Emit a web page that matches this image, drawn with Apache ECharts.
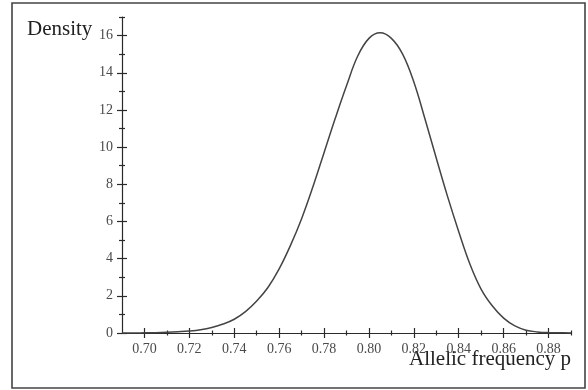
<!DOCTYPE html>
<html>
<head>
<meta charset="utf-8">
<script src="https://cdn.jsdelivr.net/npm/echarts@6/dist/echarts.min.js"></script>
<style>
  html, body { margin: 0; padding: 0; background: #fff; }
  #chart { width: 588px; height: 390px; }
</style>
</head>
<body>
<div id="chart"></div>
<script>
// density curve
const freq = [0.690, 0.695, 0.700, 0.705, 0.710, 0.715, 0.720, 0.725, 0.730, 0.735,
  0.740, 0.745, 0.750, 0.755, 0.760, 0.765, 0.770, 0.775, 0.780, 0.785,
  0.790, 0.795, 0.800, 0.805, 0.810, 0.815, 0.820, 0.825, 0.830, 0.835,
  0.840, 0.845, 0.850, 0.855, 0.860, 0.865, 0.870, 0.875, 0.880, 0.885, 0.890]
const density = [0.00, 0.00, 0.01, 0.02, 0.04, 0.07, 0.11, 0.18, 0.30, 0.48,
  0.74, 1.15, 1.72, 2.45, 3.45, 4.70, 6.15, 7.85, 9.70, 11.55,
  13.30, 14.90, 15.85, 16.15, 15.85, 15.00, 13.50, 11.50, 9.40, 7.35,
  5.45, 3.70, 2.35, 1.45, 0.80, 0.38, 0.15, 0.06, 0.02, 0.01, 0.00]

const xMajor = [0.70, 0.72, 0.74, 0.76, 0.78, 0.80, 0.82, 0.84, 0.86, 0.88]
const xMinor = [0.71, 0.73, 0.75, 0.77, 0.79, 0.81, 0.83, 0.85, 0.87, 0.89]
const yMajor = [0, 2, 4, 6, 8, 10, 12, 14, 16]
const yMinor = [1, 3, 5, 7, 9, 11, 13, 15, 17]

const serif = '"Liberation Serif", "DejaVu Serif", serif'
const ink = '#2a2a2a'

function xAx(ticks, len, inside, main) {
  return {
    type: 'value',
    position: 'bottom',
    min: 0.69,
    max: 0.89,
    axisLine: { show: main, lineStyle: { color: ink, width: 1.2 } },
    axisTick: { show: true, customValues: ticks, inside: inside, length: len, lineStyle: { color: ink, width: 1.2 } },
    axisLabel: {
      show: main,
      customValues: xMajor,
      margin: 9,
      color: '#4a4a4a',
      fontFamily: serif,
      fontSize: 14,
      formatter: v => v.toFixed(2)
    },
    splitLine: { show: false }
  }
}

function yAx(ticks, len, inside, main) {
  return {
    type: 'value',
    position: 'left',
    min: 0,
    max: 17,
    axisLine: { show: main, lineStyle: { color: ink, width: 1.2 } },
    axisTick: { show: true, customValues: ticks, inside: inside, length: len, lineStyle: { color: ink, width: 1.2 } },
    axisLabel: {
      show: main,
      customValues: yMajor,
      margin: 9,
      color: '#4a4a4a',
      fontFamily: serif,
      fontSize: 14
    },
    splitLine: { show: false }
  }
}

const chart = echarts.init(document.getElementById('chart'))
chart.setOption({
  animation: false,
  backgroundColor: '#fff',
  grid: { left: 122, right: 17, top: 17, bottom: 57 },
  xAxis: [
    xAx(xMajor, 5, false, true),
    xAx(xMajor, 5, true, false),
    xAx(xMinor, 2.5, false, false),
    xAx(xMinor, 2.5, true, false)
  ],
  yAxis: [
    yAx(yMajor, 5, false, true),
    yAx(yMajor, 5, true, false),
    yAx(yMinor, 3, false, false),
    yAx(yMinor, 3, true, false)
  ],
  graphic: [
    {
      type: 'rect',
      shape: { x: 12, y: 3, width: 573, height: 385 },
      style: { fill: 'none', stroke: '#444', lineWidth: 1.6 }
    },
    {
      type: 'text',
      left: 27,
      top: 19,
      style: { text: 'Density', font: '21px ' + serif, fill: '#222' }
    },
    {
      type: 'text',
      left: 409,
      top: 349,
      style: { text: 'Allelic frequency p', font: '21px ' + serif, fill: '#222' }
    }
  ],
  series: [{
    type: 'line',
    xAxisIndex: 0,
    yAxisIndex: 0,
    data: freq.map((f, i) => [f, density[i]]),
    smooth: 0.4,
    showSymbol: false,
    lineStyle: { color: '#444', width: 1.5 }
  }]
})
</script>
</body>
</html>
